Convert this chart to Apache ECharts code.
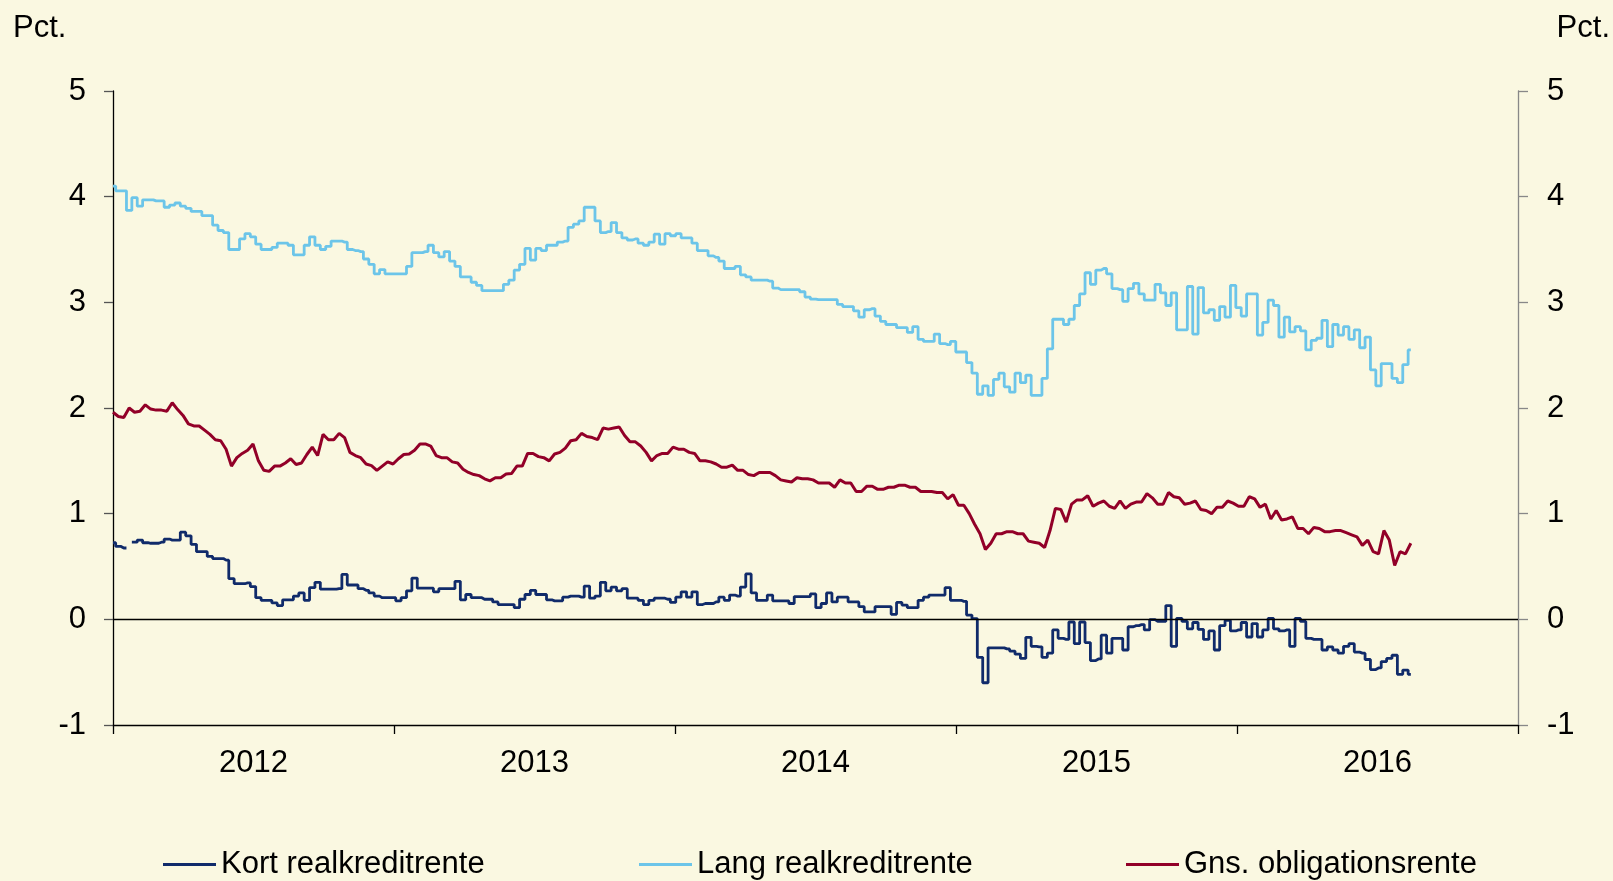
<!DOCTYPE html>
<html><head><meta charset="utf-8">
<script src="https://cdn.jsdelivr.net/npm/echarts@6/dist/echarts.min.js"></script>
<style>html,body{margin:0;padding:0;background:#faf8e1;}#c{width:1613px;height:881px;}</style>
</head><body><div id="c"></div>
<script>
// Weekly readings, first week starting at the beginning of 2012
const startYear = 2012;
const weeksPerYear = 52.18;
const yearLabels = ['2012', '2013', '2014', '2015', '2016'];
const seriesNames = ['Kort realkreditrente', 'Lang realkreditrente', 'Gns. obligationsrente'];
const unitLabel = 'Pct.';

const kort = [
0.725,0.69,0.675,null,0.73,0.75,0.725,0.72,0.72,0.73,
0.76,0.75,0.75,0.825,0.79,0.71,0.64,0.64,0.595,0.575,
0.575,0.56,0.385,0.337,0.337,0.345,0.31,0.205,0.18,0.18,
0.155,0.13,0.185,0.185,0.22,0.25,0.18,0.30,0.35,0.285,
0.285,0.285,0.29,0.425,0.325,0.325,0.29,0.275,0.25,0.22,
0.205,0.205,0.205,0.175,0.205,0.27,0.39,0.295,0.295,0.295,
0.26,0.29,0.29,0.29,0.36,0.185,0.235,0.205,0.205,0.19,
0.19,0.165,0.14,0.14,0.14,0.11,0.19,0.235,0.275,0.235,
0.235,0.185,0.175,0.175,0.21,0.22,0.22,0.21,0.315,0.20,
0.22,0.35,0.27,0.305,0.27,0.29,0.20,0.20,0.18,0.14,
0.18,0.20,0.20,0.19,0.16,0.21,0.26,0.21,0.26,0.14,
0.15,0.15,0.165,0.21,0.18,0.23,0.22,0.305,0.43,0.25,
0.18,0.18,0.23,0.175,0.175,0.175,0.15,0.215,0.215,0.215,
0.24,0.11,0.15,0.25,0.165,0.21,0.21,0.165,0.165,0.12,
0.07,0.07,0.12,0.12,0.12,0.047,0.16,0.135,0.11,0.11,
0.18,0.21,0.23,0.23,0.23,0.30,0.18,0.18,0.17,0.04,
0.006,-0.36,-0.60,-0.27,-0.27,-0.27,-0.28,-0.30,-0.33,-0.37,
-0.17,-0.255,-0.26,-0.36,-0.32,-0.10,-0.18,-0.19,-0.025,-0.23,
-0.025,-0.22,-0.39,-0.375,-0.15,-0.32,-0.18,-0.18,-0.29,-0.07,
-0.06,-0.05,-0.10,-0.003,-0.02,-0.02,0.13,-0.255,0.01,-0.02,
-0.09,-0.03,-0.095,-0.19,-0.11,-0.29,-0.06,-0.01,-0.11,-0.10,
-0.03,-0.167,-0.04,-0.167,-0.10,0.01,-0.09,-0.11,-0.10,-0.255,
0.01,-0.02,-0.18,-0.19,-0.19,-0.29,-0.26,-0.29,-0.32,-0.255,
-0.23,-0.31,-0.32,-0.38,-0.475,-0.46,-0.40,-0.37,-0.34,-0.52,
-0.48,-0.52
];

const lang = [
4.10,4.055,4.055,3.87,3.99,3.91,3.97,3.97,3.96,3.96,
3.90,3.92,3.94,3.91,3.89,3.86,3.86,3.82,3.82,3.73,
3.68,3.66,3.50,3.50,3.60,3.65,3.62,3.55,3.50,3.50,
3.52,3.56,3.56,3.54,3.45,3.45,3.54,3.62,3.54,3.50,
3.53,3.58,3.58,3.57,3.50,3.49,3.48,3.41,3.36,3.27,
3.31,3.27,3.27,3.27,3.27,3.34,3.47,3.47,3.48,3.54,
3.47,3.43,3.48,3.39,3.34,3.24,3.24,3.19,3.16,3.11,
3.11,3.11,3.11,3.17,3.21,3.305,3.36,3.51,3.40,3.51,
3.49,3.54,3.54,3.57,3.58,3.71,3.74,3.77,3.90,3.90,
3.77,3.66,3.67,3.755,3.66,3.61,3.59,3.60,3.56,3.54,
3.57,3.645,3.55,3.65,3.63,3.65,3.61,3.61,3.56,3.49,
3.49,3.44,3.425,3.39,3.32,3.32,3.34,3.26,3.24,3.21,
3.21,3.21,3.20,3.135,3.12,3.12,3.12,3.12,3.10,3.05,
3.03,3.025,3.025,3.025,3.025,2.98,2.96,2.96,2.92,2.86,
2.93,2.94,2.87,2.82,2.79,2.79,2.76,2.76,2.715,2.77,
2.65,2.63,2.63,2.70,2.61,2.60,2.63,2.53,2.53,2.43,
2.33,2.13,2.21,2.12,2.27,2.33,2.20,2.15,2.33,2.24,
2.31,2.12,2.12,2.28,2.56,2.84,2.84,2.79,2.84,2.97,
3.08,3.28,3.17,3.305,3.32,3.27,3.13,3.12,3.01,3.13,
3.18,3.08,3.02,3.02,3.17,3.09,2.97,3.09,2.74,2.74,
3.15,2.70,3.14,2.90,2.93,2.83,2.96,2.86,3.16,2.95,
2.87,3.08,3.08,2.69,2.81,3.02,2.97,2.67,2.86,2.72,
2.77,2.73,2.55,2.64,2.66,2.83,2.58,2.79,2.69,2.77,
2.65,2.74,2.57,2.67,2.36,2.21,2.42,2.42,2.28,2.24,
2.41,2.55
];

const gns = [
1.96,1.92,1.91,2.00,1.96,1.97,2.03,1.99,1.98,1.98,
1.97,2.05,1.985,1.93,1.85,1.83,1.83,1.79,1.75,1.70,
1.69,1.61,1.45,1.53,1.57,1.60,1.66,1.50,1.41,1.40,
1.45,1.45,1.48,1.52,1.465,1.48,1.56,1.63,1.55,1.75,
1.70,1.70,1.76,1.72,1.58,1.55,1.53,1.47,1.455,1.41,
1.45,1.49,1.47,1.52,1.56,1.565,1.60,1.66,1.66,1.64,
1.55,1.53,1.53,1.49,1.48,1.42,1.39,1.37,1.36,1.33,
1.31,1.34,1.34,1.375,1.38,1.45,1.45,1.57,1.57,1.54,
1.53,1.50,1.565,1.58,1.62,1.69,1.70,1.76,1.73,1.72,
1.70,1.81,1.80,1.81,1.82,1.74,1.68,1.68,1.64,1.58,
1.50,1.55,1.57,1.57,1.63,1.61,1.61,1.58,1.57,1.50,
1.50,1.49,1.47,1.44,1.44,1.46,1.41,1.41,1.37,1.36,
1.39,1.39,1.39,1.36,1.32,1.31,1.30,1.34,1.33,1.33,
1.32,1.29,1.29,1.29,1.25,1.32,1.29,1.29,1.21,1.21,
1.26,1.26,1.23,1.23,1.25,1.25,1.27,1.27,1.25,1.25,
1.21,1.21,1.21,1.20,1.20,1.14,1.18,1.08,1.08,1.00,
0.90,0.81,0.66,0.72,0.81,0.81,0.83,0.83,0.81,0.81,
0.74,0.73,0.72,0.68,0.84,1.05,1.04,0.92,1.09,1.13,
1.13,1.17,1.07,1.10,1.12,1.07,1.05,1.12,1.05,1.09,
1.11,1.11,1.19,1.15,1.09,1.09,1.20,1.16,1.15,1.09,
1.10,1.12,1.04,1.03,1.00,1.06,1.06,1.12,1.10,1.07,
1.07,1.16,1.14,1.06,1.09,0.95,1.03,0.94,0.95,0.97,
0.86,0.86,0.81,0.87,0.86,0.83,0.83,0.84,0.84,0.82,
0.80,0.78,0.70,0.75,0.64,0.62,0.84,0.75,0.51,0.64,
0.62,0.72
];

const weekX = kort.map((_, i) => startYear + i / weeksPerYear);
const pts = arr => arr.map((v, i) => [weekX[i], v]);

const FONT = "'Liberation Sans', Arial, sans-serif";
const colors = ['#102b6a', '#6cc5e9', '#920028'];

const chart = echarts.init(document.getElementById('c'), null, {renderer: 'canvas'});
chart.setOption({
  backgroundColor: '#faf8e1',
  animation: false,
  textStyle: {fontFamily: FONT},
  grid: {left: 113, right: 95, top: 91, bottom: 156, containLabel: false},
  graphic: [
    {type: 'text', left: 13, top: 13, style: {text: unitLabel, fontSize: 31, fill: '#000', fontFamily: FONT}},
    {type: 'text', right: 3, top: 13, style: {text: unitLabel, fontSize: 31, fill: '#000', fontFamily: FONT}}
  ],
  legend: seriesNames.map((n, k) => ({
    data: [n], left: [158, 634, 1121][k], top: 844,
    icon: 'rect', itemWidth: 53, itemHeight: 3,
    textStyle: {fontSize: 31, color: '#000', fontFamily: FONT}
  })),
  xAxis: [
    {type: 'value', min: 2012, max: 2017, interval: 1,
     axisLine: {show: true, onZero: false, lineStyle: {color: '#000', width: 1.3}},
     axisTick: {show: true, length: 9, lineStyle: {color: '#000', width: 1.3}},
     axisLabel: {show: false}, splitLine: {show: false}},
    {type: 'value', min: 2012, max: 2017, interval: 0.5, position: 'bottom',
     axisLine: {show: false}, axisTick: {show: false}, splitLine: {show: false},
     axisLabel: {fontSize: 31, color: '#000', margin: 23, fontFamily: FONT,
       formatter: v => (v % 1 === 0.5) ? (yearLabels[Math.floor(v) - startYear] || '') : ''}}
  ],
  yAxis: [
    {type: 'value', min: -1, max: 5, interval: 1, position: 'left',
     axisLine: {show: true, lineStyle: {color: '#000', width: 1.3}},
     axisTick: {show: true, length: 9, lineStyle: {color: '#555', width: 1.3}},
     axisLabel: {fontSize: 31, color: '#000', margin: 27, fontFamily: FONT},
     splitLine: {show: false}},
    {type: 'value', min: -1, max: 5, interval: 1, position: 'right',
     axisLine: {show: true, lineStyle: {color: '#888', width: 1.3}},
     axisTick: {show: true, length: 10, lineStyle: {color: '#888', width: 1.3}},
     axisLabel: {fontSize: 31, color: '#000', margin: 29, fontFamily: FONT},
     splitLine: {show: false}}
  ],
  series: [
    {name: seriesNames[0], type: 'line', step: 'middle', data: pts(kort), symbol: 'none',
     xAxisIndex: 0, yAxisIndex: 0, connectNulls: false,
     lineStyle: {color: colors[0], width: 2.8}, itemStyle: {color: colors[0]},
     markLine: {silent: true, symbol: 'none', label: {show: false},
       lineStyle: {color: '#000', width: 1.3, type: 'solid'}, data: [{yAxis: 0}]}},
    {name: seriesNames[1], type: 'line', step: 'middle', data: pts(lang), symbol: 'none',
     xAxisIndex: 0, yAxisIndex: 0,
     lineStyle: {color: colors[1], width: 2.8}, itemStyle: {color: colors[1]}},
    {name: seriesNames[2], type: 'line', data: pts(gns), symbol: 'none',
     xAxisIndex: 0, yAxisIndex: 0,
     lineStyle: {color: colors[2], width: 3}, itemStyle: {color: colors[2]}}
  ]
});
</script></body></html>
